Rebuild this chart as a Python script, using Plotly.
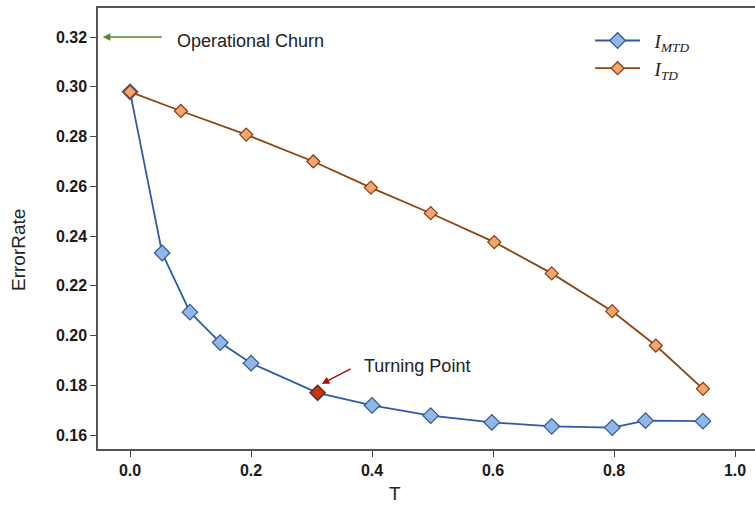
import plotly.graph_objects as go

# Data
t_mtd = [0.0, 0.053, 0.099, 0.149, 0.2, 0.31, 0.4, 0.497, 0.598, 0.697, 0.797, 0.852, 0.947]
err_mtd = [0.298, 0.2332, 0.2094, 0.1972, 0.1889, 0.1770, 0.1719, 0.1678, 0.1651, 0.1635, 0.1630, 0.1658, 0.1656]
t_td = [0.0, 0.084, 0.192, 0.303, 0.398, 0.497, 0.602, 0.697, 0.797, 0.869, 0.947]
err_td = [0.298, 0.2903, 0.2808, 0.2700, 0.2595, 0.2492, 0.2376, 0.2250, 0.2098, 0.1960, 0.1786]
turn_idx = 5
x_ticks = [0.0, 0.2, 0.4, 0.6, 0.8, 1.0]
y_ticks = [0.16, 0.18, 0.20, 0.22, 0.24, 0.26, 0.28, 0.30, 0.32]

BLUE_LINE = "#2f5aa8"
BLUE_FILL = "#8fb8e6"
BLUE_EDGE = "#2f5597"
OR_LINE = "#8b4513"
OR_FILL = "#f4a66e"
OR_EDGE = "#8b3a10"

fig = go.Figure()
fig.add_trace(go.Scatter(
    x=t_mtd, y=err_mtd, mode="lines+markers",
    name="&nbsp;&nbsp;<i>I</i><sub><i>MTD</i></sub>",
    line=dict(color=BLUE_LINE, width=1.8),
    marker=dict(symbol="diamond", size=12, color=BLUE_FILL, line=dict(color=BLUE_EDGE, width=1.2)),
))
fig.add_trace(go.Scatter(
    x=t_td, y=err_td, mode="lines+markers",
    name="&nbsp;&nbsp;<i>I</i><sub><i>TD</i></sub>",
    line=dict(color=OR_LINE, width=1.8),
    marker=dict(symbol="diamond", size=10, color=OR_FILL, line=dict(color=OR_EDGE, width=1.2)),
))
fig.add_trace(go.Scatter(
    x=[t_mtd[turn_idx]], y=[err_mtd[turn_idx]], mode="markers", showlegend=False,
    marker=dict(symbol="diamond", size=11, color="#c8350c", line=dict(color="#7a2a10", width=1.2)),
))

TXT = dict(family="Liberation Sans, Arial", size=18, color="#222")

fig.add_annotation(x=-0.045, y=0.32, ax=0.055, ay=0.32, axref="x", ayref="y", xref="x", yref="y",
                   text="", showarrow=True, arrowhead=2, arrowsize=1, arrowwidth=1.5, arrowcolor="#4f8a2f")
fig.add_annotation(x=0.074, y=0.3185, xref="x", yref="y", text="Operational Churn", showarrow=False,
                   xanchor="left", yanchor="middle", font=TXT)
fig.add_annotation(x=0.317, y=0.1806, ax=0.367, ay=0.1869, axref="x", ayref="y", xref="x", yref="y",
                   text="", showarrow=True, arrowhead=2, arrowsize=1, arrowwidth=1.5, arrowcolor="#a01010")
fig.add_annotation(x=0.383, y=0.1877, xref="x", yref="y", text="Turning Point", showarrow=False,
                   xanchor="left", yanchor="middle", font=TXT)

# axis titles placed in pixels relative to the paper
fig.add_annotation(x=(395 - 98) / 657, y=-(494 - 449) / 441, xref="paper", yref="paper", text="T",
                   showarrow=False, xanchor="center", yanchor="middle",
                   font=dict(family="Liberation Sans, Arial", size=19, color="#222"))
fig.add_annotation(x=-(98 - 18) / 657, y=(449 - 250) / 441, xref="paper", yref="paper", text="ErrorRate",
                   showarrow=False, xanchor="center", yanchor="middle", textangle=-90,
                   font=dict(family="Liberation Sans, Arial", size=19, color="#222"))

AX = dict(showgrid=False, zeroline=False, showline=True, linecolor="#555", linewidth=1.5,
          ticks="outside", ticklen=6, tickcolor="#444", tickwidth=1.3, automargin=False,
          tickfont=dict(family="Liberation Sans, Arial", size=16, color="#1a1a1a", weight="bold"))

fig.update_layout(
    width=755, height=506,
    margin=dict(l=98, r=0, t=8, b=57, autoexpand=False),
    paper_bgcolor="white", plot_bgcolor="white",
    xaxis=dict(range=[-0.053, 1.033], tickvals=x_ticks, tickformat=".1f", mirror=True, **AX),
    yaxis=dict(range=[0.1544, 0.3317], tickvals=y_ticks, tickformat=".2f", mirror=False, **AX),
    legend=dict(x=0.749, y=0.969, xanchor="left", yanchor="top", bgcolor="rgba(0,0,0,0)",
                font=dict(family="Liberation Serif, DejaVu Serif", size=19, color="#222"),
                itemwidth=45, tracegroupgap=12),
)

fig.write_html("out.html", config={"displayModeBar": False},
               post_script="document.body.style.margin='0';document.body.style.overflow='hidden';")
